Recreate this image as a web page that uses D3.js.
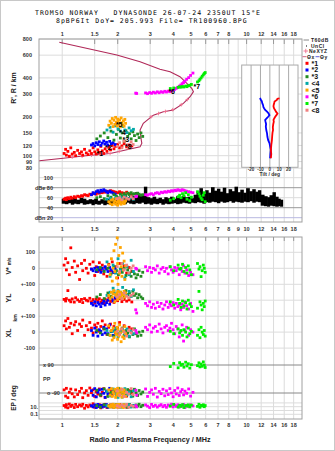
<!DOCTYPE html>
<html>
<head>
<meta charset="utf-8">
<script src="https://cdn.jsdelivr.net/npm/d3@7"></script>
<style>
body{margin:0;background:#fff;overflow:hidden}
svg{display:block}
text{font-family:"Liberation Sans",Arial,sans-serif}
</style>
</head>
<body>
<div id="chart-area"></div>
<script>
// ---- data ----
const titleLines = ["TROMSO NORWAY   DYNASONDE 26-07-24 2350UT 15°E", "8pBP6It DoY= 205.993 File= TR100960.BPG"];
const freqTop = [1, 1.5, 2, 3, 4, 5, 6, 7, 8, 10, 12, 14, 16, 18];
const freqMid = [1, 1.5, 2, 3, 4, 5, 6, 7, 8, 9, 10, 12, 14, 16, 18];
const freqBot = [1, 1.5, 2, 3, 4, 5, 6, 7, 8, 10, 12, 14, 16, 18];
const heightTicks = [800, 600, 400, 300, 200, 150, 120, 100, 90, 80];
const dbTicks = [100, 80, 60, 40, 20];
const dbLabels = ["100", "dBe 80", "60", "40", "dBn 20"];
const tiltTicks = [-20, -10, 0, 10, 20];

const classNames = ["*1", "*2", "*3", "<4", "<5", "*6", "*7", "<8"];
const classColors = ["#ff0000", "#0000ff", "#228b22", "#00a8a8", "#ffa500", "#ff00ff", "#00ee00", "#f08080"];
const classLabelF = [1.61, 1.79, 2.23, 2.14, 2.05, 3.95, 5.4, 2.30];
const classLabelH = [104, 116, 134, 151, 173, 313, 342, 117];

// profile trace (f MHz, h km)
const profF = [0.756, 1.02, 1.31, 1.83, 2.35, 2.66, 2.72, 2.70, 2.66, 2.77, 3.14, 3.56, 4.03, 4.57, 4.97, 5.18, 5.07, 4.77, 4.38, 3.87, 3.41, 2.66, 1.99, 0.97];
const profH = [91.4, 95.5, 99.4, 104, 112.7, 117, 125, 132, 158, 178, 206, 219, 226, 254, 286, 313, 332, 363, 409, 447, 466, 534, 601, 755];
const nexF = [1.14, 1.29, 1.45, 1.62, 1.83, 2.05, 3.05, 3.35, 3.65, 4.0, 4.45, 4.8];
const nexH = [97.5, 99, 101, 102.5, 104, 108, 200, 212, 220, 227, 248, 272];

// tilt inset
const tiltXH = [278, 276, 270, 262, 254, 246, 240, 232, 225, 219, 212, 206, 200, 195, 189, 183, 175, 166, 158, 150, 142, 132, 122, 111, 103, 95.5];
const tiltX = [10.3, 8.1, 7.5, 5.0, 4.6, 4.0, 3.9, 4.5, 5.7, 6.5, 8.1, 7.0, 5.7, 4.8, 3.9, 4.2, 3.6, 3.2, 3.4, 2.8, 2.5, 2.2, 1.6, 1.1, 1.5, 1.1];
const tiltYH = [280, 272, 264, 254, 246, 238, 232, 226, 219, 213, 206, 200, 195, 189, 183, 176, 168, 158, 149, 140, 132, 125, 117, 111, 103, 95.5];
const tiltY = [-10.4, -9.8, -8.6, -8.0, -7.2, -6.9, -6.0, -5.0, -3.0, -1.5, -0.4, -1.8, -3.2, -5.0, -4.6, -4.0, -4.3, -3.8, -3.0, -2.6, -1.8, -0.4, 0.4, 1.1, 0.6, 0.3];

// noise (T60dB band) in amplitude panel
const noiseF = [1.00,1.04,1.08,1.12,1.16,1.20,1.25,1.30,1.35,1.40,1.45,1.50,1.56,1.62,1.68,1.74,1.80,1.87,1.94,2.01,2.08,2.16,2.24,2.32,2.41,2.50,2.59,2.69,2.79,2.89,3.00,3.11,3.23,3.35,3.47,3.60,3.73,3.87,4.02,4.17,4.32,4.48,4.65,4.82,5.00,5.19,5.38,5.58,5.79,6.00,6.22,6.45,6.70,6.95,7.20,7.47,7.75,8.04,8.34,8.65,8.97,9.30,9.65,10.0,10.4,10.8,11.2,11.6,12.0,12.5,13.0,13.4,13.9,14.4,14.9,15.3];
const noiseHi = [58,60,57,61,59,56,60,58,55,57,56,58,54,57,55,58,56,59,57,62,60,65,61,68,63,71,66,64,82,61,59,62,58,60,57,61,59,62,58,63,60,64,61,62,59,66,72,79,68,75,70,81,74,78,72,80,69,77,73,82,71,76,70,79,73,77,72,75,66,63,61,65,71,62,58,56];
const noiseLo = [48,47,49,46,48,47,49,46,47,48,45,47,46,48,45,47,46,48,47,48,49,47,50,48,47,49,48,50,47,48,46,48,47,49,46,48,47,48,49,47,48,50,49,48,50,49,51,50,48,51,50,52,51,49,52,50,51,53,50,52,51,50,52,51,53,50,52,51,44,43,42,44,43,42,43,42];

// echoes per class: [f MHz, h km, amp dB, V* m/s, YL km, XL km, PP deg, EP deg]
const echoes1 = [
  [1.03,104,57,20,5,40,-70,20],[1.05,112,59,60,-5,70,-110,8],[1.06,101,56,-10,10,20,-60,35],[1.08,108,60,35,60,85,-120,5],
  [1.10,99,58,-40,0,30,-85,50],[1.12,115,61,128,-10,55,-65,12],[1.14,103,59,5,8,-10,-95,25],[1.17,106,62,45,-12,45,-115,6],
  [1.19,100,60,-25,15,65,-70,40],[1.22,110,63,15,2,10,-100,10],[1.25,104,62,-70,-8,50,-80,30],[1.28,107,64,30,5,35,-60,15],
  [1.30,101,63,-15,-15,75,-120,45],[1.33,112,66,50,10,-20,-90,4],[1.36,105,65,0,0,40,-75,22],[1.39,102,64,-30,-5,15,-105,9],
  [1.42,109,67,25,12,60,-58,28],[1.45,104,66,-5,-10,25,-88,14],[1.48,115,69,40,4,-5,-70,60],[1.51,107,68,-45,-18,45,-112,7],
  [1.54,103,67,10,6,30,-82,20],[1.57,111,70,-20,-6,55,-97,11],[1.60,106,69,35,9,5,-64,35],[1.63,118,71,-10,-12,35,-108,5],
  [1.66,109,70,20,0,70,-86,24],[1.69,104,72,-35,-20,20,-62,13],[1.72,113,71,5,7,45,-118,42],[1.76,108,73,-50,-4,-15,-78,6],
  [1.80,116,72,25,14,30,-96,18],[1.84,111,74,-15,-8,50,-68,30],[1.88,120,73,40,3,10,-104,9],[1.92,113,72,-25,-14,35,-84,16],
  [1.96,118,71,10,8,-5,-72,26],[2.01,122,70,-60,-3,25,-99,8],[2.06,115,72,30,11,60,-66,38],[2.12,119,70,-5,-9,15,-92,12],
  [2.18,124,69,15,5,40,-80,21],[2.25,117,71,-30,-6,-10,-110,7],[2.32,121,68,5,2,30,-74,33],[2.40,119,67,-20,-11,20,-90,14]
];
const echoes2 = [
  [1.45,121,66,-5,-20,10,-75,18],[1.48,124,70,-15,-30,-20,-105,9],[1.51,119,68,0,-10,25,-62,30],[1.54,126,72,-20,-35,0,-115,6],
  [1.57,122,74,5,-15,-25,-85,40],[1.60,128,71,-10,-25,15,-70,12],[1.63,120,75,-25,-40,5,-100,22],[1.66,125,73,0,-20,-15,-66,8],
  [1.69,130,76,-15,-5,30,-92,28],[1.72,123,74,10,-30,-5,-118,14],[1.75,127,72,-5,-15,20,-78,35],[1.78,121,70,-20,0,-10,-96,7],
  [1.82,129,73,5,-25,45,-60,20],[1.86,124,71,-10,10,5,-108,11],[1.90,126,69,-25,-5,-20,-82,26],[1.95,122,67,0,15,10,-94,16]
];
const echoes3 = [
  [1.55,135,60,-10,20,10,-72,18],[1.62,142,62,5,35,-5,-104,8],[1.70,150,58,-20,10,20,-64,32],[1.78,138,64,0,45,-15,-112,12],
  [1.85,155,61,-35,25,5,-86,24],[1.92,132,66,10,55,-25,-70,6],[1.98,146,63,-15,30,15,-98,40],[2.03,160,60,-40,15,-10,-60,14],
  [2.08,137,67,-5,50,0,-90,22],[2.13,150,64,-25,40,25,-116,9],[2.18,130,68,0,20,-20,-76,30],[2.23,156,65,-45,60,10,-102,16],
  [2.28,141,69,-10,35,-5,-68,7],[2.33,148,66,-30,45,-30,-94,36],[2.38,135,70,-50,25,5,-80,12],[2.43,153,67,-20,55,-15,-110,20],
  [2.48,143,68,-35,30,20,-66,9],[2.53,131,66,-60,40,-10,-88,28],[2.58,147,69,-40,15,-25,-106,15],[2.63,138,67,-15,35,0,-74,45],
  [2.69,150,65,-50,20,-20,-96,10],[2.75,141,66,-25,10,5,-84,24]
];
const echoes4 = [
  [1.76,158,57,40,30,10,-80,20],[1.83,166,59,-50,50,-20,-108,9],[1.90,152,56,20,75,5,-64,30],[1.96,170,60,-30,40,25,-96,14],
  [2.02,161,58,60,60,-30,-118,40],[2.08,155,61,-10,20,0,-72,7],[2.14,168,57,30,80,15,-90,25],[2.20,158,62,-60,45,-15,-62,12],
  [2.26,151,59,10,30,20,-102,18],[2.32,164,58,-40,55,-25,-84,33],[2.38,156,60,50,25,5,-114,8],[2.45,160,57,-20,65,-10,-76,22]
];
const echoes5 = [
  [1.80,172,52,20,30,40,-70,18],[1.83,185,48,-40,10,-20,-104,8],[1.86,178,55,60,50,10,-62,30],[1.88,194,46,-80,20,-50,-112,12],
  [1.90,168,57,0,40,25,-84,45],[1.92,188,50,110,60,-35,-96,6],[1.94,175,53,-20,-10,55,-66,22],[1.96,198,47,150,35,0,-118,15],
  [1.98,181,58,-60,25,-15,-78,35],[2.00,170,51,190,45,30,-100,9],[2.01,192,45,30,5,-45,-60,26],[2.02,184,54,-100,55,15,-90,13],
  [2.04,176,49,80,30,-25,-108,40],[2.06,189,56,-30,15,45,-74,7],[2.08,167,52,130,50,-5,-94,20],[2.10,196,47,10,25,-60,-64,11],
  [2.12,180,55,-50,40,20,-116,28],[2.14,173,50,95,10,-30,-82,16],[2.16,186,53,-10,35,5,-102,6],[2.18,169,48,45,55,-40,-70,32],
  [2.20,191,51,-70,20,35,-88,14],[2.22,178,54,15,45,-10,-110,24]
];
const echoes6 = [
  [2.52,305,62,0,-60,10,-72,20],[2.55,303,63,-5,-80,-5,-104,9],[2.85,306,66,10,-20,30,-64,30],[2.92,302,65,-15,-35,15,-112,14],
  [3.00,308,67,5,-10,45,-86,6],[3.07,304,68,-25,-45,0,-70,40],[3.14,310,66,0,-25,25,-98,12],[3.22,306,69,-10,-50,35,-60,24],
  [3.30,312,70,15,-15,5,-116,8],[3.38,307,68,-30,-40,50,-80,18],[3.46,313,71,-5,-20,20,-94,35],[3.54,309,70,5,-55,-5,-66,10],
  [3.62,315,72,-20,-30,30,-108,22],[3.70,311,71,0,-10,40,-76,7],[3.78,316,73,-35,-45,10,-100,28],[3.86,313,72,10,-25,25,-62,15],
  [3.94,318,74,-10,-35,55,-90,45],[4.02,322,73,-25,-15,15,-114,9],[4.10,326,75,5,-50,-10,-74,26],[4.18,332,74,-15,-20,35,-96,12],
  [4.26,338,76,0,-40,20,-58,32],[4.34,345,75,-40,-30,-30,-106,8],[4.42,352,74,-5,-60,5,-82,20],[4.50,361,76,-20,-25,45,-68,14],
  [4.58,368,75,15,-45,-56,-102,38],[4.66,378,74,-30,-10,10,-78,6],[4.76,390,73,-10,-35,30,-92,24],[4.88,402,72,-45,-55,-20,-64,11],
  [5.00,418,71,-25,-20,15,-110,30],[5.15,436,70,-40,-70,0,-86,16]
];
const echoes7 = [
  [3.88,331,55,10,-10,5,80,15],[4.05,334,58,-15,-30,-10,100,40],[4.28,338,62,20,5,20,72,8],[4.36,341,65,-5,-20,-5,105,24],
  [4.44,339,60,0,-45,10,88,12],[4.52,343,68,25,-5,-20,95,35],[4.60,340,64,-20,-35,15,76,6],[4.70,346,70,5,-15,0,108,20],
  [4.78,342,57,-30,-55,-30,84,14],[4.86,348,66,15,0,25,98,30],[4.95,351,54,-10,-25,-10,70,9],[5.05,356,61,-40,-40,5,92,26],
  [5.45,372,72,30,-50,-20,86,12],[5.55,380,68,-5,55,15,104,45],[5.62,390,63,10,-10,-35,78,7],[5.70,400,59,-52,-30,30,96,22],
  [5.78,412,56,-15,-60,0,82,16],[5.86,422,65,20,-20,-15,110,32],[5.93,432,70,0,-40,10,90,10],[6.00,440,52,-25,-5,-25,74,20]
];
const echoes8 = [
  [2.00,118,58,10,20,5,-76,18],[2.06,126,60,-20,35,-15,-104,9],[2.12,115,56,30,10,20,-66,30],[2.18,130,61,-10,45,0,-112,14],
  [2.25,121,59,20,25,-25,-86,40],[2.31,114,57,-30,15,10,-96,7],[2.38,128,62,0,30,-5,-62,22],[2.44,122,58,15,40,15,-100,12]
];
const echoSets = [echoes1, echoes2, echoes3, echoes4, echoes5, echoes6, echoes7, echoes8];

// ---- layout ----
const W = 335, H = 451;
const L = 39, R = 302;
const topY0 = 39, topY1 = 222, botY0 = 237, botY1 = 419;

const svg = d3.select("#chart-area").append("svg").attr("width", W).attr("height", H);
svg.append("rect").attr("x", 0.5).attr("y", 0.5).attr("width", W - 1).attr("height", H - 1)
  .attr("fill", "#fff").attr("stroke", "#c8c8c8");

const x = d3.scaleLog().domain([0.753, 20.1]).range([L, R]);
const yH = d3.scaleLog().domain([800, 80]).range([39, 168.2]);
const yA = d3.scaleLinear().domain([100, 20]).range([177.7, 217.7]);
const yV = d3.scaleLinear().domain([100, -100]).range([252.3, 284.3]);
const yYL = d3.scaleLinear().domain([100, -100]).range([284.2, 316.2]);
const yXL = d3.scaleLinear().domain([100, -100]).range([316.1, 348.1]);
const yP = d3.scaleLinear().domain([90, -90]).range([365, 393]);
const yE = d3.scaleLog().domain([100, 0.1]).range([402.9, 414.3]);
const xT = d3.scaleLinear().domain([-30, 30]).range([241.7, 298]);

const gridCol = "#dcdcdc", frameCol = "#a0a0a0", labCol = "#333";

function hline(y, col) {
  svg.append("line").attr("x1", L).attr("x2", R).attr("y1", y).attr("y2", y).attr("stroke", col);
}
function vgrid(y0, y1) {
  const g = svg.append("g").attr("transform", "translate(0," + y0 + ")")
    .call(d3.axisBottom(x).tickValues(freqMid).tickSize(y1 - y0).tickFormat(""));
  g.select(".domain").remove();
  g.selectAll("line").attr("stroke", gridCol);
}

// title
svg.selectAll(".title").data(titleLines).join("text")
  .attr("x", (d, i) => i === 0 ? 35 : 56).attr("y", (d, i) => i === 0 ? 15 : 23)
  .style("font-family", "'DejaVu Sans Mono', monospace").style("font-size", "6.5px")
  .style("letter-spacing", "1px").style("white-space", "pre").attr("fill", "#000").text(d => d);

// grids
vgrid(topY0, topY1);
vgrid(botY0, botY1);
heightTicks.forEach(h => hline(yH(h), gridCol));
hline(yA(100), gridCol); hline(yA(60), gridCol);
hline(yA(80), "#999"); hline(yA(40), "#999"); hline(yA(20), "#b8b8e0");
[yV(100), yV(0), yV(-100), yYL(0), yYL(-100), yXL(0), yXL(-100)].forEach(y => hline(y, gridCol));
[100, 10, 1, 0.1].forEach(v => hline(yE(v), gridCol));
hline(yP(90), "#888"); hline(yP(-90), "#888");

// frames
svg.append("rect").attr("x", L).attr("y", topY0).attr("width", R - L).attr("height", topY1 - topY0)
  .attr("fill", "none").attr("stroke", frameCol);
svg.append("rect").attr("x", L).attr("y", botY0).attr("width", R - L).attr("height", botY1 - botY0)
  .attr("fill", "none").attr("stroke", frameCol);

// frequency axes
function freqAxis(axis, y, ticks, size, pad) {
  const g = svg.append("g").attr("transform", "translate(0," + y + ")")
    .call(axis(x).tickValues(ticks).tickSize(size).tickPadding(pad).tickFormat(d => d));
  g.select(".domain").remove();
  g.selectAll("line").attr("stroke", "#999");
  g.selectAll("text").style("font-size", "5.5px").style("font-family", "'Liberation Sans',Arial,sans-serif")
    .attr("fill", labCol).style("font-weight", "bold");
}
freqAxis(d3.axisTop, topY0, freqTop, -5, 3.5);
freqAxis(d3.axisBottom, topY1, freqMid, 0, 5.5);
svg.append("g").attr("transform", "translate(0," + botY0 + ")")
  .call(d3.axisBottom(x).tickValues(freqBot).tickSize(4).tickFormat(""))
  .call(g => g.select(".domain").remove()).selectAll("line").attr("stroke", "#999");
freqAxis(d3.axisBottom, botY1, freqBot, 0, 4);

// height axis
const hAx = svg.append("g").attr("transform", "translate(32,0)")
  .call(d3.axisLeft(yH).tickValues(heightTicks).tickSize(0).tickPadding(0).tickFormat(d3.format("d")));
hAx.select(".domain").remove();
hAx.selectAll("text").style("font-size", "5.5px").style("font-weight", "bold").attr("fill", labCol);

// amplitude labels (inside frame)
svg.selectAll(".dbl").data(dbTicks).join("text")
  .attr("x", 53).attr("y", d => yA(d) + 2).attr("text-anchor", "end")
  .style("font-size", "5.5px").style("font-weight", "bold").attr("fill", labCol)
  .text((d, i) => dbLabels[i]);

// lower panel labels
const lowLabels = [["100", yV(100)], ["0", yV(0)], ["+-100", yV(-100)], ["0", yYL(0)], ["+-100", yYL(-100)], ["0", yXL(0)], ["-100", yXL(-100)]];
svg.selectAll(".lowl").data(lowLabels).join("text")
  .attr("x", 35).attr("y", d => d[1] + 2).attr("text-anchor", "end")
  .style("font-size", "5.5px").style("font-weight", "bold").attr("fill", labCol).text(d => d[0]);
const inLabels = [["x 90", 43, yP(90)], ["PP", 43, yP(0)], ["o -90", 47, yP(-90)]];
svg.selectAll(".inl").data(inLabels).join("text")
  .attr("x", d => d[1]).attr("y", d => d[2] + 2)
  .style("font-size", "5.5px").style("font-weight", "bold").attr("fill", labCol).text(d => d[0]);
svg.selectAll(".epl").data([10, 0.1]).join("text")
  .attr("x", 38).attr("y", d => yE(d) + 2).attr("text-anchor", "end")
  .style("font-size", "5.5px").style("font-weight", "bold").attr("fill", labCol).text(d => d === 10 ? "10." : "0.1");

// axis titles
function vtext(tx, ty, str, size) {
  svg.append("text").attr("transform", "translate(" + tx + "," + ty + ") rotate(-90)")
    .attr("text-anchor", "middle").style("font-size", size).style("font-weight", "bold")
    .attr("fill", "#222").text(str);
}
vtext(16, 88, "R', R / km", "7px");
svg.append("text").attr("transform", "translate(11,266) rotate(-90)").attr("text-anchor", "middle")
  .style("font-weight", "bold").attr("fill", "#222")
  .call(t => { t.append("tspan").style("font-size", "7px").text("V* "); t.append("tspan").style("font-size", "4.5px").text("m/s"); });
vtext(11, 298, "YL", "7px");
vtext(17, 318, "km", "5px");
vtext(11, 333, "XL", "7px");
vtext(16, 398, "EP / deg", "6.5px");
svg.append("text").attr("x", 150).attr("y", 441.5).attr("text-anchor", "middle")
  .style("font-size", "7.2px").style("font-weight", "bold").attr("fill", "#222")
  .text("Radio and Plasma Frequency / MHz");

// profile line + NeXYZ markers
const profLine = d3.line().x(i => x(profF[i])).y(i => yH(profH[i]));
svg.append("path").attr("d", profLine(d3.range(profF.length)))
  .attr("fill", "none").attr("stroke", "#b02858").attr("stroke-width", 1.1);
const plus = svg.append("g").selectAll("g").data(nexF).join("g")
  .attr("transform", (d, i) => "translate(" + x(d) + "," + yH(nexH[i]) + ")");
plus.append("path").attr("d", "M-1.8,0H1.8M0,-1.8V1.8").attr("stroke", "#f07090").attr("stroke-width", 0.9);

// noise band
svg.append("g").selectAll("rect").data(noiseF).join("rect")
  .attr("x", d => x(d))
  .attr("width", (d, i) => i < noiseF.length - 1 ? x(noiseF[i + 1]) - x(d) + 0.6 : 3)
  .attr("y", (d, i) => yA(noiseHi[i]))
  .attr("height", (d, i) => yA(noiseLo[i]) - yA(noiseHi[i]))
  .attr("fill", "#000");

// echo points in each panel
const ps = 2.8;
const panels = [[yH, 1], [yA, 2], [yV, 3], [yYL, 4], [yXL, 5], [yP, 6], [yE, 7]];
panels.forEach(([ys, col]) => {
  echoSets.forEach((set, ci) => {
    svg.append("g").selectAll("rect").data(set).join("rect")
      .attr("x", d => x(d[0]) - ps / 2).attr("y", d => ys(d[col]) - ps / 2)
      .attr("width", ps).attr("height", ps).attr("fill", classColors[ci]);
  });
});

// class labels on the trace
svg.selectAll(".cl").data(classNames).join("text")
  .attr("x", (d, i) => x(classLabelF[i])).attr("y", (d, i) => yH(classLabelH[i]) + 2.5)
  .attr("text-anchor", "middle").style("font-size", "7px").style("font-weight", "bold")
  .attr("fill", "#000").text(d => "*" + d.slice(1));

// tilt inset
const iy0 = yH(503), iy1 = 167.3;
svg.append("rect").attr("x", xT(-30)).attr("y", iy0).attr("width", xT(30) - xT(-30)).attr("height", iy1 - iy0)
  .attr("fill", "#fff").attr("stroke", "#aaa");
svg.selectAll(".tg").data(tiltTicks).join("line")
  .attr("x1", d => xT(d)).attr("x2", d => xT(d)).attr("y1", iy0).attr("y2", iy1).attr("stroke", "#aaa");
svg.selectAll(".tl").data(tiltTicks).join("text")
  .attr("x", d => xT(d)).attr("y", iy1 + 4).attr("text-anchor", "middle")
  .style("font-size", "4.5px").style("font-weight", "bold").attr("fill", labCol).text(d => d);
svg.append("text").attr("x", xT(0)).attr("y", iy1 + 9).attr("text-anchor", "middle")
  .style("font-size", "5px").style("font-weight", "bold").attr("fill", labCol).text("Tilt / deg");
const tiltLineX = d3.line().x(i => xT(tiltX[i])).y(i => yH(tiltXH[i]));
const tiltLineY = d3.line().x(i => xT(tiltY[i])).y(i => yH(tiltYH[i]));
svg.append("path").attr("d", tiltLineY(d3.range(tiltY.length))).attr("fill", "none").attr("stroke", "#0000ff").attr("stroke-width", 1.8);
svg.append("path").attr("d", tiltLineX(d3.range(tiltX.length))).attr("fill", "none").attr("stroke", "#ff0000").attr("stroke-width", 1.8);

// legend
const lg = svg.append("g").style("font-family", "'DejaVu Sans',sans-serif").style("font-size", "5px")
  .style("font-weight", "bold").style("letter-spacing", "0.5px");
lg.append("line").attr("x1", 303.5).attr("x2", 309).attr("y1", 40).attr("y2", 40).attr("stroke", "#888");
lg.append("text").attr("x", 311).attr("y", 41.8).attr("fill", "#222").text("T60dB");
lg.append("rect").attr("x", 306).attr("y", 45.5).attr("width", 1).attr("height", 1).attr("fill", "#000");
lg.append("text").attr("x", 311).attr("y", 47.5).attr("fill", "#222").text("UnCl");
lg.append("path").attr("d", "M303.5,51H308M305.75,48.8V53.2").attr("stroke", "#f07090").attr("stroke-width", 0.9);
lg.append("text").attr("x", 309).attr("y", 52.8).attr("fill", "#222").text("NeXYZ");
lg.append("line").attr("x1", 302.5).attr("x2", 306.5).attr("y1", 56.7).attr("y2", 56.7).attr("stroke", "#d06080");
lg.append("text").attr("x", 307).attr("y", 58.5).attr("fill", "#222").text("Θx");
lg.append("line").attr("x1", 315.5).attr("x2", 319.5).attr("y1", 56.7).attr("y2", 56.7).attr("stroke", "#6060e0");
lg.append("text").attr("x", 320).attr("y", 58.5).attr("fill", "#222").text("Θy");
const items = lg.selectAll(".li").data(classNames).join("g")
  .attr("transform", (d, i) => "translate(0," + (63.3 + i * 6.7) + ")");
items.append("rect").attr("x", 305.5).attr("y", -1.5).attr("width", 3).attr("height", 3).attr("fill", (d, i) => classColors[i]);
items.append("text").attr("x", 311.5).attr("y", 2.4).style("font-family", "'Liberation Sans',Arial,sans-serif")
  .style("font-size", "7px").style("letter-spacing", "0px").attr("fill", "#111").text(d => d);
</script>
</body>
</html>
